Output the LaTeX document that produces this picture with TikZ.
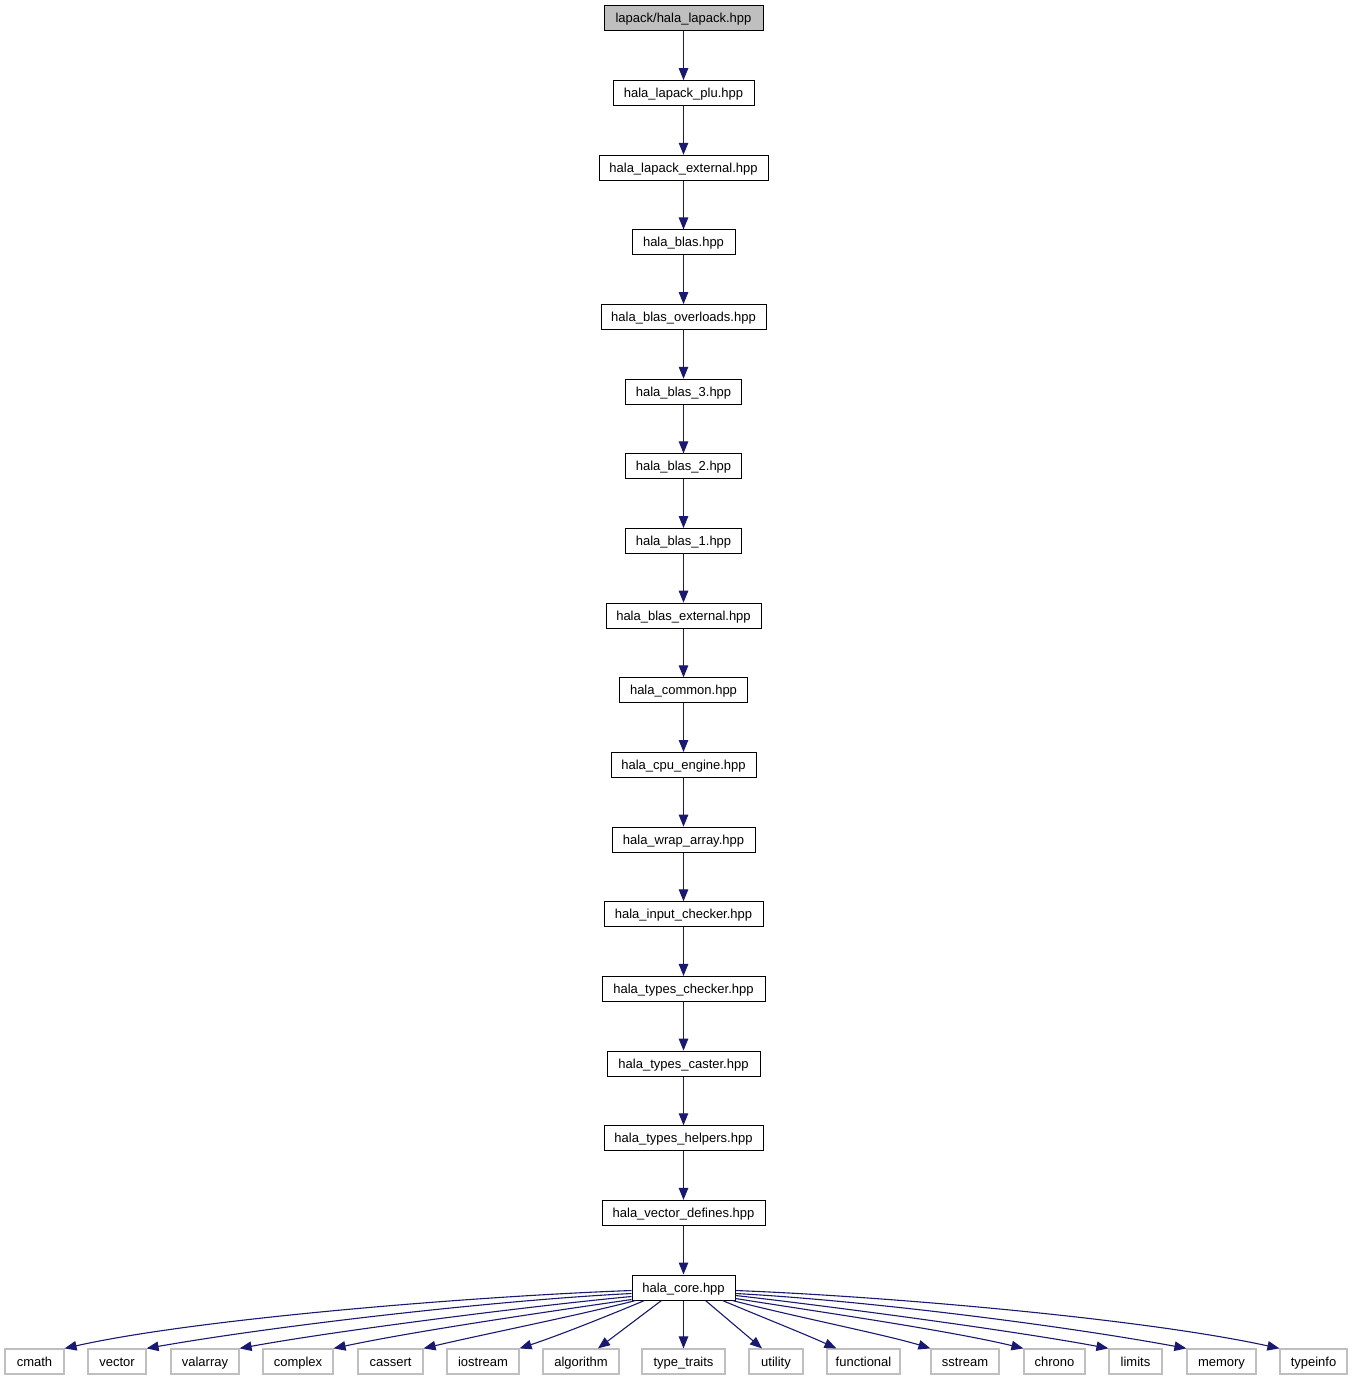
\documentclass[tikz,border=0pt]{standalone}
\usepackage{fontspec}
\setmainfont{Liberation Sans}
\usetikzlibrary{arrows.meta,calc}
\definecolor{edgeblue}{HTML}{191970}
\definecolor{boxgray}{HTML}{BFBFBF}
\begin{document}
\begin{tikzpicture}[x=1pt,y=-1pt,
  box/.style={draw=black, line width=1pt, fill=white, minimum height=25pt, inner xsep=2pt, inner ysep=0pt,
    font=\fontsize{13}{15}\selectfont, text height=11pt, text depth=2pt, anchor=center},
  topbox/.style={box, fill=boxgray},
  extbox/.style={box, draw=boxgray, line width=1.2pt},
  edge/.style={draw=edgeblue, line width=1.1pt, -{Triangle[length=12pt,width=9.5pt]}}
]
\useasboundingbox[fill=white] (0,0) rectangle (1354,1381);

% chain
\node[topbox, minimum width=159pt] (n0) at (683.5,18.5) {lapack/hala\_lapack.hpp};
\node[box, minimum width=141pt] (n1) at (683.5,93.15) {hala\_lapack\_plu.hpp};
\node[box, minimum width=169pt] (n2) at (683.5,167.8) {hala\_lapack\_external.hpp};
\node[box, minimum width=103pt] (n3) at (683.5,242.45) {hala\_blas.hpp};
\node[box, minimum width=165pt] (n4) at (683.5,317.1) {hala\_blas\_overloads.hpp};
\node[box, minimum width=116pt] (n5) at (683.5,391.75) {hala\_blas\_3.hpp};
\node[box, minimum width=116pt] (n6) at (683.5,466.4) {hala\_blas\_2.hpp};
\node[box, minimum width=116pt] (n7) at (683.5,541.05) {hala\_blas\_1.hpp};
\node[box, minimum width=155pt] (n8) at (683.5,615.7) {hala\_blas\_external.hpp};
\node[box, minimum width=128pt] (n9) at (683.5,690.35) {hala\_common.hpp};
\node[box, minimum width=145pt] (n10) at (683.5,765) {hala\_cpu\_engine.hpp};
\node[box, minimum width=143pt] (n11) at (683.5,839.65) {hala\_wrap\_array.hpp};
\node[box, minimum width=159pt] (n12) at (683.5,914.3) {hala\_input\_checker.hpp};
\node[box, minimum width=163pt] (n13) at (683.5,988.95) {hala\_types\_checker.hpp};
\node[box, minimum width=153pt] (n14) at (683.5,1063.6) {hala\_types\_caster.hpp};
\node[box, minimum width=159pt] (n15) at (683.5,1138.25) {hala\_types\_helpers.hpp};
\node[box, minimum width=163pt] (n16) at (683.5,1212.9) {hala\_vector\_defines.hpp};
\node[box, minimum width=103pt] (core) at (683.5,1287.5) {hala\_core.hpp};

\foreach \a/\b in {n0/n1,n1/n2,n2/n3,n3/n4,n4/n5,n5/n6,n6/n7,n7/n8,n8/n9,n9/n10,n10/n11,n11/n12,n12/n13,n13/n14,n14/n15,n15/n16,n16/core}
  \draw[edge] (\a) -- (\b);

% bottom row
\node[extbox, minimum width=59pt] (cmath) at (34.5,1361.5) {cmath};
\node[extbox, minimum width=58pt] (vector) at (117,1361.5) {vector};
\node[extbox, minimum width=68pt] (valarray) at (205,1361.5) {valarray};
\node[extbox, minimum width=70pt] (complex) at (298,1361.5) {complex};
\node[extbox, minimum width=65pt] (cassert) at (390.5,1361.5) {cassert};
\node[extbox, minimum width=72pt] (iostream) at (483,1361.5) {iostream};
\node[extbox, minimum width=76pt] (algorithm) at (581,1361.5) {algorithm};
\node[extbox, minimum width=83pt] (typetraits) at (683.5,1361.5) {type\_traits};
\node[extbox, minimum width=54pt] (utility) at (776,1361.5) {utility};
\node[extbox, minimum width=73pt] (functional) at (863.5,1361.5) {functional};
\node[extbox, minimum width=68pt] (sstream) at (965,1361.5) {sstream};
\node[extbox, minimum width=61pt] (chrono) at (1054.5,1361.5) {chrono};
\node[extbox, minimum width=53pt] (limits) at (1135.5,1361.5) {limits};
\node[extbox, minimum width=69pt] (memory) at (1221.5,1361.5) {memory};
\node[extbox, minimum width=67pt] (typeinfo) at (1313.5,1361.5) {typeinfo};

% fan-out edges
\draw[edge] ($(core.south west)+(0,-10)$) .. controls (480,1296) and (200,1318) .. (cmath.north east);
\draw[edge] ($(core.south west)+(0,-7)$) .. controls (500,1300) and (280,1325) .. (vector.north east);
\draw[edge] ($(core.south west)+(0,-4)$) .. controls (540,1305) and (340,1330) .. (valarray.north east);
\draw[edge] ($(core.south west)+(0,-1)$) .. controls (560,1310) and (420,1330) .. (complex.north east);
\draw[edge] ($(core.south west)+(4,0)$) .. controls (580,1315) and (480,1335) .. (cassert.north east);
\draw[edge] ($(core.south west)+(13,0)$) .. controls (610,1315) and (560,1335) .. (iostream.north east);
\draw[edge] ($(core.south west)+(30,0)$) -- ($(algorithm.north)+(17,0)$);
\draw[edge] (core.south) -- (typetraits.north);
\draw[edge] ($(core.south east)+(-30,0)$) -- ($(utility.north)+(-14,0)$);
\draw[edge] ($(core.south east)+(-13,0)$) .. controls (757,1315) and (807,1335) .. ($(functional.north west)+(10,0)$);
\draw[edge] ($(core.south east)+(-3,0)$) .. controls (787,1315) and (887,1335) .. (sstream.north west);
\draw[edge] ($(core.south east)+(0,-2)$) .. controls (807,1310) and (947,1330) .. (chrono.north west);
\draw[edge] ($(core.south east)+(0,-5)$) .. controls (820,1305) and (1010,1330) .. (limits.north west);
\draw[edge] ($(core.south east)+(0,-7)$) .. controls (860,1300) and (1060,1325) .. (memory.north west);
\draw[edge] ($(core.south east)+(0,-10)$) .. controls (880,1296) and (1140,1318) .. (typeinfo.north west);
\end{tikzpicture}
\end{document}
